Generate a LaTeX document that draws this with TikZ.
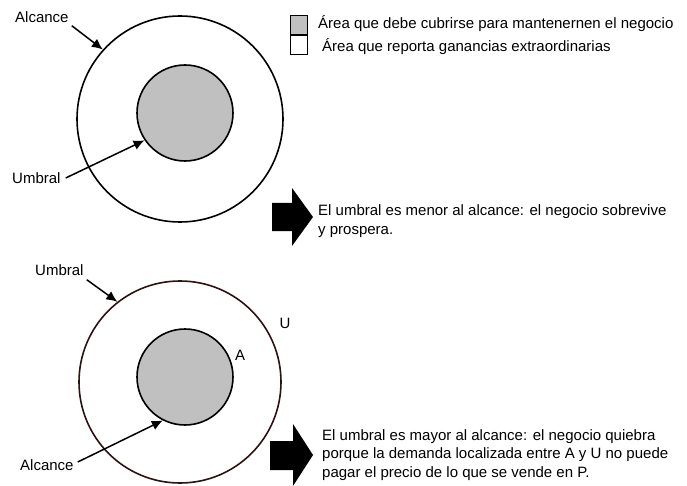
\documentclass[tikz,border=0pt]{standalone}
\usepackage{fontspec}
\setmainfont{Liberation Sans}
\usetikzlibrary{arrows.meta}

\definecolor{ringbrown}{RGB}{45,18,18}
\definecolor{zonegray}{RGB}{192,192,192}

\tikzset{
	ring/.style = {circle, draw, line width = 1.6pt, inner sep = 0pt},
	core/.style = {circle, draw, fill = zonegray, line width = 1.6pt, inner sep = 0pt, minimum size = 96pt},
	lbl/.style = {font = \fontsize{15}{18.5}\selectfont, inner sep = 0pt, align = left},
	pointer/.style = {->, line width = 1.5pt},
	keybox/.style = {draw, line width = 1.2pt, minimum width = 17pt, minimum height = 19pt, inner sep = 0pt}
}

\begin{document}
\begin{tikzpicture}[x = 1pt, y = -1pt, > = {Latex[length = 11pt, width = 10pt]}]
\useasboundingbox (0, 0) rectangle (687, 486);

	% Legend
	
	\node [keybox, fill = zonegray] (keygray) at (299, 25) {};
	\node [keybox, fill = white, anchor = north] (keywhite) at (keygray.south) {};
	\node [lbl, anchor = west] (keygraytxt) at (318, 24) {Área que debe cubrirse para mantenernen el negocio};
	\node [lbl, anchor = west] (keywhitetxt) at (322, 47) {Área que reporta ganancias extraordinarias};

	% Upper case: umbral menor al alcance
	
	\node [ring, minimum size = 206pt] (alcA) at (180, 119) {};
	\node [core] (umbA) at (185, 113) {};
	
	\node [lbl, anchor = west] (alcAtxt) at (15, 17) {Alcance};
	\node [lbl, anchor = west] (umbAtxt) at (12, 178) {Umbral};
	
	\draw [pointer] (alcAtxt.south east) ++(3, 3) coordinate (alcAtail) -- (alcA.138);
	\draw [pointer] (umbAtxt.east) ++(5, 0) coordinate (umbAtail) -- (umbA.214);
	
	\fill (272, 203) -- (292, 203) -- (292, 188) -- (313, 217) -- (292, 246) -- (292, 231) -- (272, 231) -- cycle;
	\node [lbl, anchor = west] (caseA) at (318, 221) {El umbral es menor al alcance: el negocio sobrevive\\y prospera.};

	% Lower case: umbral mayor al alcance
	
	\node [ring, draw = ringbrown, minimum size = 202pt] (umbB) at (180, 382) {};
	\node [core] (alcB) at (185, 377) {};
	
	\node [lbl, anchor = west] (umbBtxt) at (35, 270) {Umbral};
	\node [lbl, anchor = west] (alcBtxt) at (20, 465) {Alcance};
	\node [lbl] (ptA) at (240, 355) {A};
	\node [lbl] (ptU) at (285, 323) {U};
	
	\draw [pointer] (umbBtxt.south east) ++(3, 4) coordinate (umbBtail) -- (umbB.128);
	\draw [pointer] (alcBtxt.east) ++(4, -3) coordinate (alcBtail) -- (alcB.243);
	
	\fill (270, 441) -- (293, 441) -- (293, 424) -- (313, 455) -- (293, 486) -- (293, 470) -- (270, 470) -- cycle;
	\node [lbl, anchor = west] (caseB) at (322, 455) {El umbral es mayor al alcance: el negocio quiebra\\porque la demanda localizada entre A y U no puede\\pagar el precio de lo que se vende en P.};

\end{tikzpicture}
\end{document}
